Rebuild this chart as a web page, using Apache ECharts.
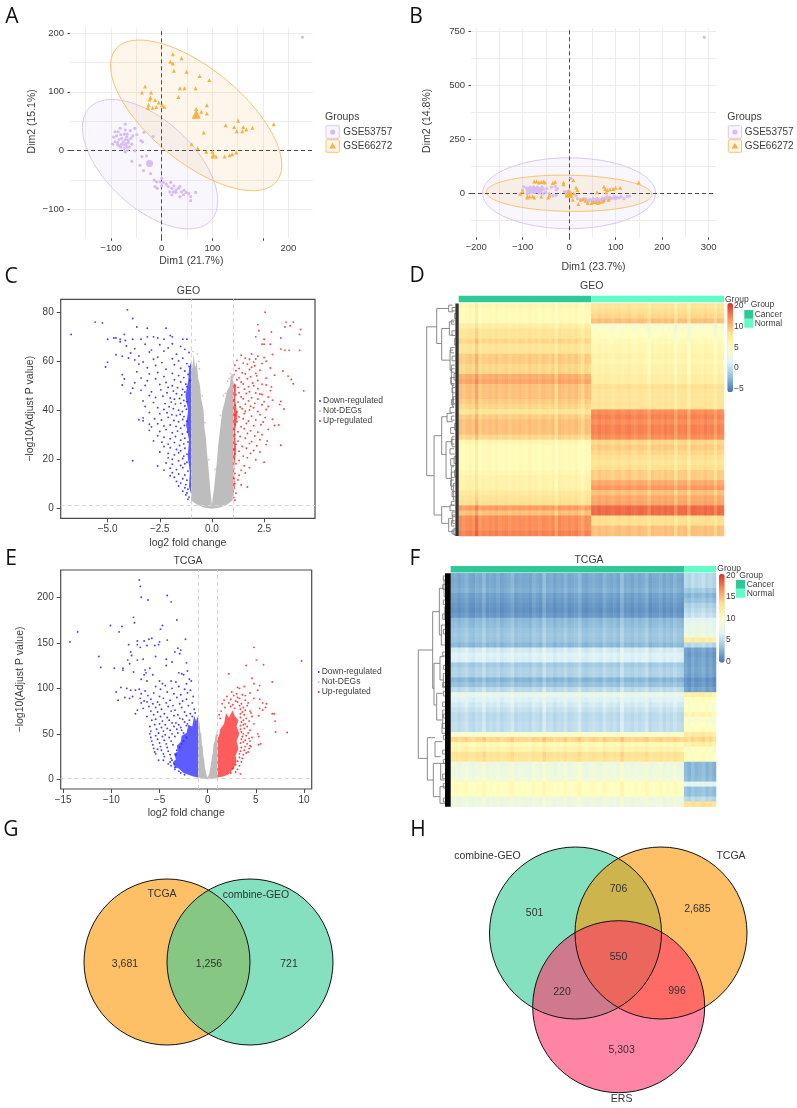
<!DOCTYPE html>
<html><head><meta charset="utf-8">
<style>html,body{margin:0;padding:0;background:#fff}#c{width:797px;height:1108px}</style>
<script src="https://cdn.jsdelivr.net/npm/echarts@6/dist/echarts.min.js"></script>
</head><body><div id="c"></div>
<script>
// ---------- PCA A ----------
const pcaAPurple=[[-72,45],[-82,38],[-92,32],[-86,32],[-72,35],[-62,34],[-53,38],[-35,31],[-95,23],[-89,25],[-81,27],[-74,28],[-68,28],[-57,25],[-49,27],[-92,15],[-97,11],[-87,14],[-84,19],[-79,21],[-76,15],[-72,19],[-69,23],[-66,18],[-61,21],[-87,10],[-84,8],[-79,11],[-74,10],[-70,12],[-66,14],[-59,11],[-81,6],[-74,4],[-69,7],[-64,6],[-68,1],[-72,-2],[-53,0],[-41,17],[-38,15],[-17,24],[-59,-18],[-39,-10],[-30,-9],[-43,-25],[-36,-34],[-22,-39],[-15,-50],[-10,-53],[0,-47],[-3,-53],[3,-54],[-13,-61],[-9,-64],[0,-60],[9,-57],[13,-61],[18,-54],[20,-64],[24,-60],[28,-67],[33,-64],[16,-70],[23,-70],[36,-61],[39,-70],[44,-67],[48,-71],[53,-73],[36,-78],[43,-75],[57,-78],[57,-85],[67,-71],[20,-75],[28,-71],[278,193]];
const pcaAOrange=[[22,164],[39,157],[17,151],[22,148],[49,134],[24,136],[75,127],[94,120],[36,106],[45,106],[67,106],[-33,109],[-39,99],[-21,99],[-22,90],[-24,87],[-13,86],[-6,82],[33,91],[-26,78],[-27,73],[-18,73],[-11,74],[1,77],[5,74],[68,71],[78,66],[89,77],[89,63],[69,59],[151,51],[126,43],[143,40],[161,40],[148,33],[159,33],[167,36],[179,39],[221,45],[83,31],[59,11],[71,4],[88,-2],[100,-2],[102,-7],[107,-10],[100,-10],[124,-10],[134,-8],[139,-6],[147,-3]];
const pcaAMeanPurple=[[-24,-22]], pcaAMeanOrange=[[68,62]];
const pcaAEllipsePurple=[-23,-23,133.5,110,0.97], pcaAEllipseOrange=[68,60,169,128,0.85];
const pcaAXGrid=[-150,-100,-50,0,50,100,150,200,250], pcaAYGrid=[-100,-50,0,50,100,150,200];
const pcaAXTicks=[-100,0,100,200], pcaAYTicks=[-100,0,100,200];
const pcaAXLabelAt=[-100,0,100,250], pcaAXLabelText={'-100':'\u2212100','0':'0','100':'100','250':'200'};
// ---------- PCA B ----------
const pcaBPurple=[[-98,30],[-100,15],[-92,25],[-88,20],[-85,10],[-84,28],[-80,18],[-78,5],[-76,30],[-75,12],[-72,22],[-70,8],[-68,28],[-66,15],[-64,0],[-62,20],[-60,10],[-58,30],[-56,-2],[-55,18],[-50,5],[-48,22],[-42,-3],[-38,28],[-35,-12],[-30,32],[-28,-10],[-25,22],[-28,15],[-5,-10],[-10,8],[-3,-3],[-90,12],[-86,18],[-82,24],[-82,8],[-78,14],[-76,20],[-74,4],[-72,15],[-70,18],[-68,12],[-66,24],[-64,10],[-62,6],[-60,18],[-90,-2],[-84,2],[15,-12],[18,-25],[25,-28],[30,-30],[35,-25],[40,-32],[42,-38],[45,-28],[50,-35],[52,-25],[55,-38],[58,-30],[60,-25],[62,-35],[65,-30],[68,-38],[70,-28],[72,-22],[75,-30],[78,-20],[80,-26],[82,-15],[85,-28],[88,-18],[90,-25],[95,-22],[98,-15],[100,-26],[104,-18],[108,-22],[112,-15],[118,-25],[125,-15],[130,-13],[4,69],[291,722]];
const pcaBOrange=[[-75,55],[-70,55],[-65,50],[-60,52],[-55,55],[-52,50],[-35,48],[-30,52],[-12,50],[-12,42],[-100,8],[-105,-2],[-90,-15],[-90,-20],[-85,-15],[-78,-15],[-75,-20],[-60,-15],[-45,-20],[-42,-10],[150,50],[75,30],[78,20],[82,15],[88,18],[95,20],[100,25],[110,25],[60,5],[80,5],[-2,5],[2,5],[15,25],[18,15],[10,0],[8,-30],[20,-50],[25,-30],[30,-25],[35,-35],[40,-45],[48,-45],[52,-40],[58,-40],[62,-45],[65,-40],[72,-38],[75,-32],[85,-30],[9,60]];
const pcaBMeanOrange=[[0,0]], pcaBMeanPurple=[[-2,-1]];
const pcaBEllipsePurple=[0,0,186,164,1.57], pcaBEllipseOrange=[0,0,178,84,1.5];
const pcaBXGrid=[-200,-150,-100,-50,0,50,100,150,200,250,300], pcaBYGrid=[-125,0,125,250,375,500,625,750];
const pcaBXTicks=[-200,-100,0,100,200,300], pcaBYTicks=[0,250,500,750];
// ---------- Volcano C (GEO): flat x,y lists ----------
const cBlue=[-6.75,71,-5.6,76,-5.25,75.7,-4.05,81,-3.8,77.5,-3.6,74,-3.1,73.5,-2.2,73.5,-5,69,-4.7,69.5,-4.6,69.5,-4.4,69,-4.2,71,-4.4,68,-4.15,68.5,-3.8,69,-3.4,69,-3.1,70,-2.8,70,-2.6,69.5,-2.3,69,-2,70.5,-1.9,70,-1.4,69,-1.2,69,-3.8,19.5,
-4.1,66.3,-3.7,65.2,-3.2,67,-2.9,64.6,-2.5,66.8,-2.1,65.5,-1.9,67.2,-1.5,66.1,-1.3,64.9,-3.9,63.4,-3.5,62.2,-3,63.8,-2.6,61.7,-2.3,64.2,-1.7,62.9,-1.4,61.3,-1.1,63.6,-4.6,62.7,-4.3,62.1,-4,61.4,-3.7,60.6,-3.3,59.8,-2.8,60.9,-2.4,59.5,-1.9,61.1,-1.6,60.2,-1.2,59.1,-5,59.6,-5.1,57.7,-3.5,58.9,-3.1,57.4,-2.7,58.3,-2.2,56.8,-1.8,58.6,-1.5,57.2,-1.3,56.1,-1.1,57.9,-3.6,55.8,-3,54.9,-2.6,55.5,-2.3,53.8,-1.9,55.1,-1.6,54.2,-1.35,53.4,-1.15,54.7,-4.3,54.6,-3.4,53.2,-3.1,52.1,-2.7,52.9,-2.2,51.4,-1.8,52.5,-1.5,51.6,-1.25,50.7,-1.05,52.2,-4.2,52.8,-3.7,51.3,-3.2,50.2,-2.5,50.6,-2.1,49.4,-1.9,50.1,-1.65,49.3,-1.4,48.6,-1.2,49.7,-4.3,50.4,-3.8,49.1,-3.4,48.2,-2.9,47.6,-2.45,48.4,-2.15,47.2,-1.85,47.9,-1.7,46.8,-1.45,46.3,-1.3,47.5,-3.9,47,-3,46.1,-2.7,45.3,-2.35,45.8,-2,45.1,-1.8,44.6,-1.55,44.9,-1.35,44.1,-1.2,43.6,-3.3,43.9,-2.8,43.2,-2.25,42.8,-1.95,43.4,-1.75,42.6,-1.5,42.9,-1.3,41.8,-3.2,41.6,-2.6,41.1,-2.3,40.4,-2.05,41.5,-1.85,40.7,-1.6,40.1,-1.42,39.6,-1.22,40.5,-3,39.2,-2.5,38.7,-2.15,39.1,-1.92,38.3,-1.7,37.9,-1.52,38.4,-1.34,37.5,-3.3,37,-2.75,36.6,-2.42,36.1,-2.1,37.2,-1.82,35.9,-1.6,35.4,-1.4,36.3,-1.2,35.6,-3.5,36.2,-3.3,35.8,-3,34.4,-2.9,33.3,-2.6,34.6,-2.3,33.7,-2,34.1,-1.72,33.5,-1.5,32.8,-1.32,33.9,-3,31.9,-2.5,31.4,-2.2,32.2,-1.9,30.9,-1.65,31.6,-1.42,30.4,-1.18,31.2,-2.6,29.7,-2.3,29.1,-2,28.5,-1.75,29.4,-1.5,27.9,-1.3,28.7,-2.8,27.6,-2.4,27.1,-2.1,26.3,-1.8,26.9,-1.55,25.7,-1.35,26.4,-1.15,27.2,-2.3,25.3,-2,24.8,-1.7,24.1,-1.5,23.6,-1.3,24.6,-2.5,23.1,-2.1,22.5,-1.8,21.9,-1.6,22.8,-1.35,21.4,-1.2,22.2,-2.1,20.7,-1.9,20.1,-1.6,19.5,-1.4,20.4,-1.2,18.9,-2.2,18.6,-1.9,18.1,-1.5,17.6,-1.3,18.3,-2.6,17.4,-2,16.5,-1.7,15.9,-1.4,16.7,-1.15,15.3,-2.3,15.7,-1.9,14.6,-1.6,14.1,-1.3,13.7,-2,13.4,-1.8,12.8,-1.4,12.2,-1.2,11.6,-1.7,11.1,-1.5,10.4,-1.25,9.8,-1.6,9.2,-1.3,8.5,-1.15,7.9,-1.4,7.1,-1.2,6.4,-1.25,5.6,-1.1,4.7,-1.15,3.8];
const cRed=[2.55,80,2.2,75,2.25,72.5,3.55,76,3.9,76,3.75,74.5,3.5,74,4.25,73,4.2,71,4.2,64.5,2.85,72,2.1,70,2.5,69,3.3,69.5,2.4,67,2.5,67,2.8,67,3.3,65,3.5,64.5,3.7,64.5,4.4,48,
1.4,62.5,1.6,61.3,1.9,63,2.2,62.1,2.5,61.6,2.9,62.8,1.2,60.4,1.5,59.3,1.8,60.9,2,59.7,2.1,61,2.6,60.1,1.1,58.4,1.3,57.1,1.7,58.9,1.9,57.6,2.05,58.2,2.4,59.1,2.8,57.3,1.15,56.2,1.45,55.4,1.8,56.7,2.1,55.1,2.3,56.4,3.4,56.1,1.05,54.6,1.3,53.3,1.6,54.9,1.85,53.7,2.15,54.1,2.6,53.1,3,54.4,3.65,54,1.2,52.5,1.4,51.6,1.7,52.9,1.95,51.2,2.2,52.2,2.4,50.7,3.8,52.6,1.1,50.3,1.25,49.4,1.5,50.8,1.75,49.7,2,50.1,2.2,48.9,2.6,50.4,2.85,49.6,3.9,50.9,1.05,48.3,1.3,47.2,1.55,48.7,1.8,47.6,2.1,47.1,2.4,46.5,2.8,48.1,1.15,46.4,1.4,45.6,1.65,46.9,1.9,45.2,2.2,44.7,2.3,46.7,2.7,45.5,1.05,44.3,1.25,43.4,1.5,44.8,1.75,43.9,2.05,42.9,2.5,43.6,2.9,44.2,3.3,43.7,1.1,42.2,1.35,41.4,1.6,42.6,1.85,41.7,2,41.1,2.4,42.3,2.7,41.6,3.25,42.4,1.05,40.3,1.2,39.4,1.45,40.7,1.6,39.7,1.8,40.2,2.2,39.6,2.6,40.4,3.45,40.6,1.1,38.2,1.3,37.4,1.55,38.7,1.9,37.7,2.3,38.3,2.55,37.1,1.05,36.2,1.2,35.4,1.5,36.6,1.75,35.7,2.1,36.1,2.45,35.3,2.9,36.4,1.1,34.3,1.4,33.4,1.65,34.7,2,33.8,2.35,34.2,3,33.9,3.2,34.1,1.05,32.2,1.25,31.3,1.55,32.6,1.85,31.7,2.2,31.1,2.7,32.3,1.1,30.2,1.35,29.4,1.7,30.6,2.05,29.6,2.4,30.1,1.05,28.4,1.25,27.5,1.6,28.7,1.9,27.3,2.3,28.1,2.65,27.6,1.15,26.2,1.45,25.3,1.8,26.5,2.15,25.6,2.6,26.1,3.3,25.8,1.05,24.3,1.3,23.4,1.65,24.6,2,23.7,2.3,23.1,1.1,22.3,1.5,21.4,1.85,22.5,1.05,20.4,1.3,19.6,1.7,20.7,2.1,19.9,1.15,18.3,1.55,17.5,2.5,18.9,1.05,16.4,1.4,15.6,1.8,16.7,1.1,14.3,1.3,13.6,1.6,14.5,1.05,12.3,1.25,11.7,1.1,10.2,1.4,9.6,1.05,8.3,1.7,8.8,1.15,6.3,1.05,4.5,1.1,3.4];
const cGrayOutline=[[0,0],[-0.4,0.5],[-0.75,1.8],[-1,3.5],[-1,60],[-0.95,57],[-0.88,62.5],[-0.8,57.5],[-0.73,60],[-0.66,53],[-0.58,50.5],[-0.52,45],[-0.4,40],[-0.36,33],[-0.28,28],[-0.24,23],[-0.18,18],[-0.12,12],[-0.08,8],[0,1.5],[0.06,6],[0.1,8],[0.17,14],[0.25,20],[0.3,26],[0.36,30],[0.44,36],[0.5,40],[0.6,43],[0.72,48],[0.86,50],[0.9,54],[1,55],[1,3.5],[0.75,1.8],[0.4,0.5]];
const cGrayStray=[[-0.8,68.7],[-0.62,60],[-0.7,63],[0.82,53],[0.9,55],[0.75,52],[-0.9,64],[-0.6,57],[-0.47,46],[-0.33,35],[0.4,38],[0.55,46],[0.65,47],[-0.15,20],[0.15,16]];
const cBlueDense=[[-1,6],[-1.1,9],[-1.06,15],[-1.16,21],[-1.1,28],[-1.24,34],[-1.14,40],[-1.27,46],[-1.14,52],[-1.1,57],[-1,60]];
const cRedDense=[[1,5],[1.1,9],[1.05,16],[1.16,24],[1.1,31],[1.22,38],[1.12,44],[1.16,50],[1,52]];
const cXTicks=[-5,-2.5,0,2.5], cYTicks=[0,20,40,60,80];
// ---------- Volcano E (TCGA): flat x,y lists ----------
const eBlue=[-7.1,219,-7,212,-6.9,200,-6.2,197,-4.2,202,-3.8,195,-3.2,175,-7.7,178,-7.6,172,-10.1,169,-8.9,168,-9.2,162,-13.5,162,-14.3,151,-4.7,169,-4.9,165,-6.1,154,-5.8,155,-6.6,152,-7.3,152,-5,151,-5.1,148,-4.2,153,-2.3,154,-8.2,148,-7.3,148,-7,145,-6.3,147,-5.5,147,-3.1,144,-2.8,142,-11.3,135,-11.1,123,-8,140,-7.9,136,-3.4,140,-2.9,138,-5.4,135,-6.7,132,-7.3,131,-8.3,131,-4.3,132,-4.3,125,-3.7,129,-2.2,128,-8.1,127,-6.5,120,-7.7,118,-9.7,122,-8.8,122,-8.8,120,-6.4,117,-6.6,115,-6,122,-5.7,115,-2.1,119,-2.5,115,-3,117,-2.7,116,-6.9,110,-6.3,108,-5,108,-4.7,105,-3.8,108,-3.3,107,-1.9,110,-1.7,108,-2.2,105,
-9,101,-8.4,100,-8,98,-7.1,99,-6.5,97,-5.4,102,-4.9,99,-4.4,103,-3.7,100,-3,102,-2.4,99,-1.8,98,-9.5,96,-7.5,98,-6.9,94,-6.2,92,-5.6,95,-5,91,-4.2,96,-3.5,94,-2.8,93,-2.1,95,-1.5,91,-8.6,90,-7.8,91,-7,89,-6.6,86,-5.9,88,-5.2,85,-4.6,89,-3.9,87,-3.2,90,-2.6,86,-9.3,87,-8.1,89,-6.3,85,-5.7,83,-5,82,-4.3,84,-3.6,81,-2.9,83,-2.2,88,-1.6,84,-6.9,84,-6.1,80,-5.4,79,-4.8,77,-4.1,80,-3.4,76,-2.7,79,-2,81,-1.4,77,-6.7,78,-5.9,75,-5.2,74,-4.5,72,-3.8,75,-3.1,71,-2.4,74,-1.8,72,-7.3,76,-5.6,71,-4.9,69,-4.2,68,-3.5,70,-2.9,67,-2.2,70,-1.6,69,-7.5,72,-6.3,69,-5.4,66,-4.7,64,-4,65,-3.3,62,-2.6,66,-1.9,65,-1.3,73,-5.8,65,-5,61,-4.4,60,-3.7,62,-3,60,-2.4,63,-2.1,61,-5.5,60,-4.8,57,-4.2,56,-3.5,58,-2.8,57,-2.2,59,-6,58,-5.3,55,-4.6,53,-3.9,54,-3.2,55,-2.7,54,-5.9,53,-5.1,51,-4.4,49,-3.7,50,-3.1,51,-2.5,51,-6,50,-5.4,48,-4.7,47,-4,46,-3.4,47,-5.9,46,-5.2,44,-4.5,43,-3.8,42,-5.8,42,-5,40,-4.3,39,-3.6,38,-5.7,38,-4.9,36,-4.2,35,-5.6,34,-4.8,32,-4.1,31,-5.5,30,-5.2,33,-4.6,28,-3.9,27,-5.4,28,-4.5,25,-3.8,23,-4.6,21,-3.9,19,-5.1,21,-4.1,17,-3.8,15,-3.4,13,-3.7,21,-3.4,11,-3,9,-2.8,7,-2.4,5,-3.3,27,-2.9,35,-2.5,42,-2.2,46,-3.2,32,-2.7,39,-3.5,17];
const eRed=[4.8,145,5.05,131,5.8,126,9.75,130,4,125,2.2,116,4.6,111,6.7,107,4.8,105,5.4,103,3.1,101,3.8,102,3.3,100,4.4,95,2.5,96,5.2,98,3,94,3.6,93,3.9,92,4.8,89,5.4,88,5.7,84,6.1,83,6,79,5.4,78,5.7,76,6.7,72,6.9,72,5.3,70,7,64,7.05,52,8.25,51.5,5.2,50,5.3,47,5.3,38,5.5,39,4.5,36,4.4,37,
2,91,2.7,92,3.1,90,1.7,87,2.4,88,2.9,86,3.3,89,3.9,87,1.5,83,2.2,84,2.6,82,3.1,85,3.5,83,4.2,84,1.8,79,2.4,80,2.8,78,3.3,81,3.7,79,4.1,81,1.4,75,3.4,77,3.6,74,3.9,76,4.4,75,1.2,71,3.4,72,3.8,71,4.5,73,1.3,67,3.4,68,3.7,65,4,67,4.6,69,3.5,63,3.9,61,4.3,64,3.4,59,3.7,60,4.1,58,4.8,61,3.4,55,3.8,56,4.4,54,3.5,52,3.7,50,4.2,51,3.6,47,4,48,4.6,46,3.5,44,3.9,43,4.3,45,3.4,40,3.7,41,4.1,39,4.4,42,3.5,35,3.9,36,4.3,34,3.4,31,3.8,32,4.2,30,3.3,28,3.7,27,4,29,3.3,24,3.6,23,3.1,20,3.5,19,2.9,16,3.3,15,2.6,12,3.1,11,2.4,7,2.9,8,3.4,6];
const eGrayOutline=[[0,0],[-0.5,0.5],[-1,2],[-1,68],[-0.9,62],[-0.85,64],[-0.75,50],[-0.68,52],[-0.6,38],[-0.52,36],[-0.45,25],[-0.36,22],[-0.3,14],[-0.15,6],[0,2],[0.15,6],[0.3,14],[0.38,20],[0.45,25],[0.55,30],[0.6,38],[0.72,41],[0.8,48],[0.92,50],[1,56],[1,2],[0.5,0.5]];
const eBlueDense=[[-1,2],[-1.5,3],[-2,5],[-2.5,7],[-3,12],[-3.4,13],[-3.6,19],[-3.3,22],[-3.5,28],[-3.1,31],[-3.2,37],[-2.8,41],[-2.7,48],[-2.2,51],[-2,60],[-1.6,58],[-1.4,70],[-1.2,64],[-1,70]];
const eRedDense=[[1,2],[1.6,3],[2.1,5],[2.4,8],[2.7,12],[3,20],[2.9,26],[3.2,34],[3,42],[3.3,50],[3,58],[3.2,65],[2.8,70],[2.6,76],[2.2,68],[1.9,73],[1.7,61],[1.3,55],[1.15,46],[1,50]];
const eXTicks=[-15,-10,-5,0,5,10], eYTicks=[0,50,100,150,200];
// ---------- Heatmap D : [cancer, normal] level of each row band ----------
const heatDRows=[[6,8],[5.5,8.5],[5.5,9],[5.5,10],[7,4],[8,4.5],[8,5],[9,5.5],[8,6],[8,6],[9.5,6.5],[9.5,6],[9,6.5],[9,6.5],[10.8,7],[11.2,7],[10,8.5],[10,8],[10,8],[9.5,8],[9,8],[8,12.2],[9.5,12.7],[10,12.2],[10,12.7],[10,12.7],[9,12.2],[6,9],[5.5,9.5],[5.5,9],[5.5,8.5],[5.5,8],[5.5,8.5],[6,9.5],[6.5,9.5],[6.5,11],[6.5,11.8],[7.5,10],[8,11],[8.5,11.2],[11.6,13.6],[10,13.6],[12.2,8.5],[12.2,8.5],[12.2,10],[12.7,10]];
const heatDCancerColumns=[.2,-.3,.1,.3,-.2,1.4,-.6,.1,-.2,.2,-.1,.3,-.2,0,.2,-.3,.1,-.1,.2,0,-.2,.3,-.1,.1,-.3,.2,0,-.2,.3,-1.2,.4,.1,-.2,.2,-.1,.3,-.3,-.9,.2,-.1];
const heatDNormalColumns=[.1,-.2,.3,-.1,.2,0,-.3,.1,.2,-.2,.1,.3,-.1,-.2,.2,.1,-.1,-1,.2,0,.1,-.2,.3,-.1,.2,-1.2,.1,-.1,.2,-1.4,.2,.1,0,-.2,.3,-.1,.1,-1,.2,-.1];
const heatDBarTicks=['20','10','5','0','\u22125'];
const groupColsD=[40,40];
const dendroD=[[96,170,617,66,74],[66,115,220,30,51],[51,175,270,28,26],[74,497,735,51,51],[51,440,553,35,38],[51,710,760,26,30],[38,515,625,20,22],[35,430,455,20,18],[28,155,195,14,18],[26,240,300,16,22],[22,285,345,12,14],[30,105,125,18,16],[18,345,410,12,14],[20,500,530,12,10],[22,590,660,14,16],[16,640,690,10,12],[26,705,722,12,12],[30,745,785,18,14],[18,735,760,10,10],[14,775,795,8,8],[14,560,580,8,8],[12,600,620,8,8],[16,380,400,8,10],[12,460,480,8,8],[14,310,330,8,8],[12,205,225,8,8],[12,130,145,8,8],
[20,112,122,10,10],[22,150,162,12,12],[20,182,196,10,10],[24,232,248,12,14],[20,258,272,10,10],[22,296,306,12,12],[24,322,340,12,12],[20,352,368,10,10],[22,388,404,12,12],[26,412,428,14,12],[22,438,450,12,12],[24,472,490,12,14],[22,508,522,12,12],[26,536,552,14,12],[24,566,586,12,12],[22,606,622,12,12],[24,630,648,14,12],[20,664,680,10,10],[22,694,706,12,12],[20,726,740,10,10],[22,752,768,12,12],[20,780,792,10,10]];
// ---------- Heatmap F ----------
const heatFRows=[[2.3,5],[2.2,5],[2.3,5],[2.5,4],[1.9,3],[1.7,3.5],[1.4,4.5],[1.2,5],[1.5,5.5],[3,7],[3.2,7.5],[3.6,7.5],[3.8,8],[3.6,12],[3,5],[6,2],[6.5,1.8],[6.3,2],[4,2],[4.5,2.2],[4.5,2],[2.8,1.3],[3.5,1.5],[5,2],[7.5,11.5],[6.5,10],[6,9.5],[5.5,9.5],[5,11],[5,9],[5.2,9.5],[5.2,10],[9,12],[13.5,13.5],[10.5,11.5],[11,9.5],[12.8,10],[12.5,10],[8,3],[8,3],[8,3],[8.5,3.2],[10,7],[10,3.5],[9.8,3.5],[8,5],[8,13]];
const heatFCancerColumns=[.1,.3,-.1,.2,.6,0,-.2,.3,.1,.9,-.1,.2,0,.4,-.2,.1,.3,.8,-.1,.2,0,.1,-.2,.5,.2,-.1,1.1,.1,.3,-.2,.2,0,.6,-.1,.1,.3,.9,0,-.2,.2,.4,.1,-.1,.7,.2,0,.3,-.2,1.2,.1,.2,-.1,.4,0,.3,.8,-.2,.1,.2,.5,-.1,.3,0,.6,.1,-.1];
const heatFNormalColumns=[.2,-.3,.4,-.1,.1,.5,-.2,.2,-.4];
const heatFBarTicks=['20','15','10','5','0'];
const groupColsF=[66,9];
const dendroF=[[97,300,625,54,70],[54,185,415,34,50],[34,115,255,20,28],[50,340,465,32,42],[42,430,510,24,26],[32,320,390,20,22],[70,563,690,47,52],[52,640,740,30,32],[47,575,620,25,30],[30,640,690,16,18],[32,710,760,18,16],[28,225,285,16,18],[20,90,140,12,14],[18,170,210,10,12],[16,265,295,10,10],[22,370,410,12,12],[24,480,535,14,14],[14,445,470,8,8],[26,520,550,12,12],[14,590,612,8,8],[12,660,680,8,8],[12,730,755,8,8],
[22,78,92,12,12],[24,104,118,14,12],[22,150,164,12,12],[24,192,208,14,12],[22,238,252,12,12],[24,306,318,14,12],[22,346,358,12,12],[24,398,412,12,12],[22,424,438,12,12],[24,456,470,14,12],[22,492,504,12,12],[22,556,568,12,12],[24,600,612,12,14],[22,628,640,12,12],[24,672,686,14,12],[22,700,714,12,12],[22,744,756,12,12]];
// ---------- Venn ----------
const vennG=[[97,92,83],[180,92,83]];
const vennGColors=['rgba(253,150,0,.6)','rgba(52,203,150,.6)'];
const vennGLabels=[[92,24,'TCGA'],[186,25,'combine-GEO'],[55,94,'3,681'],[139,94,'1,256'],[219,94,'721']];
const vennH=[[105.5,93,86],[191,93,86],[148.7,166.7,86]];
const vennHColors=['rgba(52,203,150,.6)','rgba(253,150,0,.6)','rgba(255,52,105,.6)'];
const vennHLabels=[[17.5,16,'combine-GEO'],[261,16,'TCGA'],[64.6,72.7,'501'],[148.5,49,'706'],[227.4,69.5,'2,685'],[148.5,117.5,'550'],[92,152,'220'],[207,151,'996'],[151.6,210,'5,303'],[151.6,259,'ERS']];

// ---------- styling ----------
const FONT='"Liberation Sans",Arial,sans-serif', TXT='#3c3c3c';
const PURPLE='#d6bdf0', ORANGE='#f9b13f', BLUE='#1f1fff', RED='#ff1f1f', GRAY='#bdbdbd';
const RYB=['#4575b4','#91bfdb','#e0f3f8','#ffffbf','#fee090','#fc8d59','#d73027'];
const pairs=a=>{const o=[];for(let i=0;i<a.length;i+=2)o.push([a[i],a[i+1]]);return o;};
const minus=s=>String(s).replace('-','\u2212');

const grid=[],xAxis=[],yAxis=[],series=[],visualMap=[],graphic=[];
function addGrid(l,t,w,h,extra){grid.push(Object.assign({left:l,top:t,width:w,height:h,containLabel:false},extra||{}));return grid.length-1;}
function ax(list,o){list.push(o);return list.length-1;}
function hidden(gi,min,max,inverse){return {gridIndex:gi,type:'value',min,max,inverse:!!inverse,show:false};}
const NOLINE={show:false,onZero:false};

function polygonSeries(xi,yi,points,fill,stroke,z){
  series.push({type:'custom',coordinateSystem:'cartesian2d',xAxisIndex:xi,yAxisIndex:yi,silent:true,z,data:[[0,0]],clip:true,
    renderItem:(p,api)=>({type:'polygon',shape:{points:points.map(q=>api.coord(q))},style:{fill,stroke:stroke||null,lineWidth:stroke?1:0}})});
}
function ellipseSeries(xi,yi,e,fill,stroke,z){
  const pts=[];for(let i=0;i<180;i++){const t=i/180*2*Math.PI;pts.push([e[0]+e[2]*Math.cos(t),e[1]-e[3]*Math.cos(t+e[4])]);}
  polygonSeries(xi,yi,pts,fill,stroke,z);
}
function text(x,y,t,size,o){graphic.push({type:'text',x,y,z:50,silent:true,style:Object.assign({text:t,fontSize:size,fontFamily:FONT,fill:TXT,align:'left',verticalAlign:'middle'},o||{})});}

// ---------- PCA panels ----------
function pca(box,xr,yr,xg,yg,xt,yt,labelAt,fmt,xName,yName,xGap,yGap,pur,ora,mp,mo,ep,eo){
  const gi=addGrid(...box);
  const xLine={show:true,lineStyle:{color:'#ededed',width:1}};
  const xg0=ax(xAxis,{gridIndex:gi,type:'value',position:'bottom',min:xr[0],max:xr[1],axisLine:NOLINE,axisTick:{show:false,customValues:xg},axisLabel:{show:false},splitLine:xLine});
  ax(xAxis,{gridIndex:gi,type:'value',position:'bottom',min:xr[0],max:xr[1],axisLine:NOLINE,axisTick:{show:true,length:2.5,customValues:xt,lineStyle:{color:'#444'}},
    axisLabel:{customValues:labelAt,formatter:fmt,color:TXT,fontSize:9.5,margin:5,fontFamily:FONT},splitLine:{show:false},name:xName,nameLocation:'middle',nameGap:xGap,nameTextStyle:{fontSize:10.5,color:TXT,fontFamily:FONT}});
  const yg0=ax(yAxis,{gridIndex:gi,type:'value',position:'left',min:yr[0],max:yr[1],axisLine:NOLINE,axisTick:{show:false,customValues:yg},axisLabel:{show:false},splitLine:xLine});
  ax(yAxis,{gridIndex:gi,type:'value',position:'left',min:yr[0],max:yr[1],axisLine:NOLINE,axisTick:{show:true,length:2.5,customValues:yt,lineStyle:{color:'#444'}},
    axisLabel:{customValues:yt,formatter:v=>minus(v),color:TXT,fontSize:9.5,margin:6,fontFamily:FONT},splitLine:{show:false},name:yName,nameLocation:'middle',nameGap:yGap,nameTextStyle:{fontSize:10.5,color:TXT,fontFamily:FONT,padding:[0,0,0,24]}});
  ellipseSeries(xg0,yg0,ep,'rgba(200,170,240,.11)','#dcc6f3',2);
  ellipseSeries(xg0,yg0,eo,'rgba(249,177,63,.11)','#f9c26f',3);
  const sc=(d,sym,size,c,z,ml)=>{const s={type:'scatter',xAxisIndex:xg0,yAxisIndex:yg0,data:d,symbol:sym,symbolSize:size,itemStyle:{color:c,opacity:1},silent:true,z,clip:false};if(ml)s.markLine=ml;series.push(s);};
  sc(pur,'circle',3.2,PURPLE,5);
  sc(ora,'triangle',4,ORANGE,6);
  sc(mp,'circle',7,PURPLE,7);
  sc(mo,'triangle',9,ORANGE,8,{silent:true,symbol:'none',label:{show:false},animation:false,lineStyle:{color:'#4a4a4a',type:[4,3],width:1},data:[{xAxis:0},{yAxis:0}]});
}
pca([70,28.3,242.7,210],[-181,298],[-149,208],pcaAXGrid,pcaAYGrid,pcaAXTicks,pcaAYTicks,pcaAXLabelAt,v=>pcaAXLabelText[v],'Dim1 (21.7%)','Dim2 (15.1%)',17,32,pcaAPurple,pcaAOrange,pcaAMeanPurple,pcaAMeanOrange,pcaAEllipsePurple,pcaAEllipseOrange);
pca([471,28.3,245,209],[-211,316],[-204,764],pcaBXGrid,pcaBYGrid,pcaBXTicks,pcaBYTicks,pcaBXTicks,v=>minus(v),'Dim1 (23.7%)','Dim2 (14.8%)',24,38,pcaBPurple,pcaBOrange,pcaBMeanPurple,pcaBMeanOrange,pcaBEllipsePurple,pcaBEllipseOrange);

function pcaLegend(xBox,xText){
  text(xBox-1,117,'Groups',10.5);
  [[132,PURPLE,'GSE53757','circle'],[146,ORANGE,'GSE66272','tri']].forEach(r=>{
    graphic.push({type:'rect',z:50,silent:true,shape:{x:xBox,y:r[0]-6.3,width:13.3,height:12.6,r:1},style:{fill:r[1]==PURPLE?'rgba(200,170,240,.11)':'rgba(249,177,63,.11)',stroke:r[1]==PURPLE?'#dcc6f3':'#f9c26f',lineWidth:1}});
    if(r[3]=='circle')graphic.push({type:'circle',z:51,silent:true,shape:{cx:xBox+6.6,cy:r[0],r:2.6},style:{fill:r[1]}});
    else graphic.push({type:'polygon',z:51,silent:true,shape:{points:[[xBox+6.6,r[0]-3.2],[xBox+10,r[0]+2.6],[xBox+3.2,r[0]+2.6]]},style:{fill:r[1]}});
    text(xText,r[0],r[2],10);
  });
}
pcaLegend(326,343.3); pcaLegend(728.3,744.7);

// ---------- Volcano panels ----------
function volcano(box,xr,yr,xt,yt,xFmt,yGap,gray,stray,bd,rd,blue,red,lx,ly){
  const gi=addGrid(...box,{show:true,borderColor:'#4a4a4a',borderWidth:1.2,backgroundColor:'transparent'});
  const xi=ax(xAxis,{gridIndex:gi,type:'value',position:'bottom',min:xr[0],max:xr[1],axisLine:NOLINE,axisTick:{show:true,length:4,customValues:xt,lineStyle:{color:'#4a4a4a'}},axisLabel:{customValues:xt,formatter:xFmt,color:TXT,fontSize:10,margin:6,fontFamily:FONT},splitLine:{show:false},name:'log2 fold change',nameLocation:'middle',nameGap:19,nameTextStyle:{fontSize:10.5,color:TXT,fontFamily:FONT}});
  const yi=ax(yAxis,{gridIndex:gi,type:'value',position:'left',min:yr[0],max:yr[1],axisLine:NOLINE,axisTick:{show:true,length:4,customValues:yt,lineStyle:{color:'#4a4a4a'}},axisLabel:{customValues:yt,color:TXT,fontSize:10,margin:7,fontFamily:FONT},splitLine:{show:false},name:'\u2212log10(Adjust P value)',nameLocation:'middle',nameGap:yGap,nameTextStyle:{fontSize:10.5,color:TXT,fontFamily:FONT}});
  polygonSeries(xi,yi,gray,GRAY,null,2);
  if(stray.length)series.push({type:'scatter',xAxisIndex:xi,yAxisIndex:yi,data:stray,symbolSize:1.8,itemStyle:{color:GRAY},silent:true,z:2});
  polygonSeries(xi,yi,bd,'rgba(31,31,255,.72)',null,3);
  polygonSeries(xi,yi,rd,'rgba(255,31,31,.72)',null,3);
  series.push({type:'scatter',xAxisIndex:xi,yAxisIndex:yi,data:blue,symbolSize:1.9,itemStyle:{color:BLUE,opacity:.85},silent:true,z:4});
  series.push({type:'scatter',xAxisIndex:xi,yAxisIndex:yi,data:red,symbolSize:1.9,itemStyle:{color:RED,opacity:.85},silent:true,z:4,
    markLine:{silent:true,symbol:'none',label:{show:false},animation:false,lineStyle:{color:'#d4d4d4',type:[4,3],width:1},data:[{xAxis:-1},{xAxis:1},{yAxis:1.3}]}});
  [['Down-regulated',BLUE],['Not-DEGs',GRAY],['Up-regulated',RED]].forEach((r,i)=>{
    graphic.push({type:'circle',z:50,silent:true,shape:{cx:lx-3,cy:ly+i*10,r:.9},style:{fill:r[1]}});
    text(lx,ly+i*10,r[0],8.5);
  });
}
volcano([60.7,299.3,254.3,219],[-7.25,4.94],[-3.94,85.3],cXTicks,cYTicks,v=>minus(v.toFixed(1)),25,cGrayOutline,cGrayStray,cBlueDense,cRedDense,pairs(cBlue),pairs(cRed),323,401);
volcano([60.7,570,251,219],[-15.26,10.8],[-10.6,230],eXTicks,eYTicks,v=>minus(v),35,eGrayOutline,[],eBlueDense,eRedDense,pairs(eBlue),pairs(eRed),321.7,672);
text(188.5,291,'GEO',10.5,{align:'center'});
text(188,561,'TCGA',10.5,{align:'center'});

// ---------- Heatmaps ----------
function heatmap(box,rows,cCols,nCols,vMin,vMax,barBox,dBox,tree,dMax,dy,leafH,leafC,annoBox,groupCols){
  const gi=addGrid(...box);
  const cols=cCols.length+nCols.length;
  const xi=ax(xAxis,{gridIndex:gi,type:'category',show:false,data:Array.from({length:cols},(_,i)=>i)});
  const yi=ax(yAxis,{gridIndex:gi,type:'category',show:false,inverse:true,data:rows.map((_,i)=>i)});
  const data=[];
  rows.forEach((r,ri)=>{cCols.forEach((c,ci)=>data.push([ci,ri,r[0]+c]));nCols.forEach((c,ci)=>data.push([cCols.length+ci,ri,r[1]+c]));});
  visualMap.push({type:'continuous',seriesIndex:series.length,dimension:2,min:vMin,max:vMax,calculable:false,realtime:false,inRange:{color:RYB},orient:'vertical',left:barBox[0],top:barBox[1],itemWidth:barBox[2],itemHeight:barBox[3],text:null,padding:0,hoverLink:false,textStyle:{fontSize:1,color:'transparent'}});
  series.push({type:'heatmap',xAxisIndex:xi,yAxisIndex:yi,data,silent:true,progressive:0,z:2,emphasis:{disabled:true}});
  const gd=addGrid(...dBox);
  const dx=ax(xAxis,hidden(gd,0,dMax,true)), dyi=ax(yAxis,hidden(gd,dy[0],dy[1],true));
  series.push({type:'custom',coordinateSystem:'cartesian2d',xAxisIndex:dx,yAxisIndex:dyi,silent:true,z:4,data:[[0,0,0]],clip:false,
    renderItem:(p,api)=>({type:'rect',shape:(()=>{const a=api.coord([leafH,dy[0]]),b=api.coord([0,dy[1]]);return {x:a[0],y:a[1],width:b[0]-a[0],height:b[1]-a[1]};})(),style:{fill:leafC}})});
  series.push({type:'custom',coordinateSystem:'cartesian2d',xAxisIndex:dx,yAxisIndex:dyi,silent:true,z:3,data:tree,clip:false,
    renderItem:(p,api)=>{const h=api.value(0),y1=api.value(1),y2=api.value(2),h1=api.value(3),h2=api.value(4);
      return {type:'polyline',shape:{points:[[h1,y1],[h,y1],[h,y2],[h2,y2]].map(q=>api.coord(q))},style:{stroke:'#7d7d7d',lineWidth:.9,fill:null}};}});
  const ga=addGrid(...annoBox);
  const ax0=ax(xAxis,hidden(ga,0,groupCols[0]+groupCols[1]));
  const ay0=ax(yAxis,{gridIndex:ga,type:'category',show:false,data:['Group']});
  ['#2fc997','#62fcc8'].forEach((c,i)=>series.push({type:'bar',xAxisIndex:ax0,yAxisIndex:ay0,stack:'g'+ga,data:[groupCols[i]],barWidth:'100%',itemStyle:{color:c},silent:true}));
}
heatmap([458.7,303.5,265.3,232.5],heatDRows,heatDCancerColumns,heatDNormalColumns,-6,16,[727.3,303,5.7,89],[426.7,303.5,32,232.5],dendroD,96,[100,798],10,'#333',[458.7,295.7,265.3,6.5],groupColsD);
heatmap([450.7,573.3,265.3,233.4],heatFRows,heatFCancerColumns,heatFNormalColumns,0,20,[719,574,5.7,88.7],[418.3,573.3,32.4,233.4],dendroF,97,[70,770],17,'#050505',[450.7,566,265.3,6.5],groupColsF);
text(591.7,286,'GEO',10.5,{align:'center'});
text(589,560,'TCGA',10.5,{align:'center'});
[305.7,326.7,347.3,367.7,388.7].forEach((y,i)=>text(734,y,heatDBarTicks[i],8.5));
[575.3,597,618.3,640,661.7].forEach((y,i)=>text(726,y,heatFBarTicks[i],8.5));
function groupLegend(gx,gy,lgx,lgy,bx,by,tx){
  text(gx,gy,'Group',8.5); text(lgx,lgy,'Group',8.5);
  graphic.push({type:'rect',z:50,silent:true,shape:{x:bx,y:by,width:9,height:8.8},style:{fill:'#2fc997'}});
  graphic.push({type:'rect',z:50,silent:true,shape:{x:bx,y:by+8.8,width:9,height:8.9},style:{fill:'#62fcc8'}});
  text(tx,by+4.4,'Cancer',8.5); text(tx,by+13.4,'Normal',8.5);
}
groupLegend(725,299.3,750.7,305,744.3,310,754.7);
groupLegend(717.3,568.7,739.3,576,736,580,746.7);

// ---------- Venns ----------
function venn(box,xm,ym,circles,colors,labels){
  const gi=addGrid(...box);
  const xi=ax(xAxis,hidden(gi,0,xm)), yi=ax(yAxis,hidden(gi,0,ym,true));
  const circleShape=(api)=>{const c=api.coord([api.value(0),api.value(1)]);return {cx:c[0],cy:c[1],r:api.size([api.value(2),0])[0]};};
  series.push({type:'custom',coordinateSystem:'cartesian2d',xAxisIndex:xi,yAxisIndex:yi,silent:true,z:2,data:circles,clip:false,
    renderItem:(p,api)=>({type:'circle',shape:circleShape(api),style:{fill:colors[p.dataIndex]}})});
  series.push({type:'custom',coordinateSystem:'cartesian2d',xAxisIndex:xi,yAxisIndex:yi,silent:true,z:3,data:circles,clip:false,
    renderItem:(p,api)=>({type:'circle',shape:circleShape(api),style:{fill:'none',stroke:'#111',lineWidth:1}})});
  series.push({type:'custom',coordinateSystem:'cartesian2d',xAxisIndex:xi,yAxisIndex:yi,silent:true,z:4,data:labels.map(l=>[l[0],l[1]]),clip:false,
    renderItem:(p,api)=>{const c=api.coord([api.value(0),api.value(1)]);return {type:'text',style:{text:labels[p.dataIndex][2],x:c[0],y:c[1],align:'center',verticalAlign:'middle',fontSize:10.5,fontFamily:FONT,fill:'#333'}};}});
}
venn([70,870,280,190],280,190,vennG,vennGColors,vennGLabels);
venn([470,840,290,265],290,265,vennH,vennHColors,vennHLabels);

// ---------- Panel letters ----------
[['A',12,17],['B',416,17],['C',11,277],['D',417,276],['E',11,559],['F',415,559],['G',11,830],['H',418,830]].forEach(l=>
  text(l[1],l[2],l[0],21,{align:'center',fontFamily:'"Open Sans",sans-serif',fill:'#111'}));

const chart=echarts.init(document.getElementById('c'),null,{renderer:'canvas',width:797,height:1108});
chart.setOption({animation:false,backgroundColor:'#fff',textStyle:{fontFamily:FONT},grid,xAxis,yAxis,series,visualMap,graphic:{elements:graphic}});
</script></body></html>
